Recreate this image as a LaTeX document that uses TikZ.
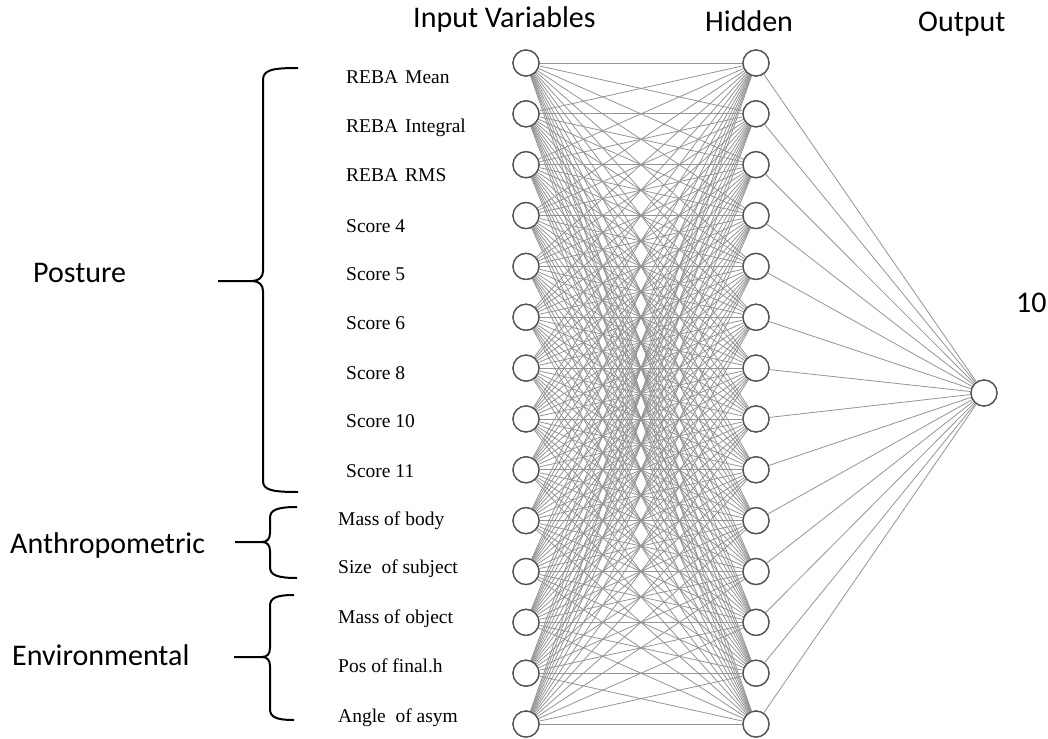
\documentclass[tikz,border=0pt]{standalone}
\usepackage{fontspec}
\setmainfont{Liberation Serif}
\newfontfamily\hdrfont{Carlito}
\begin{document}
\begin{tikzpicture}[x=1pt,y=-1pt,
  neuron/.style={circle,draw=black!68,line width=1.3pt,fill=white,minimum size=26pt,inner sep=0pt},
  conn/.style={draw=black!42,line width=0.8pt},
  bracepath/.style={draw=black,line width=2pt},
  varlabel/.style={anchor=base west,font=\fontsize{19.5}{20}\selectfont,inner sep=0pt},
  grouplabel/.style={anchor=base west,font=\hdrfont\fontsize{30}{32}\selectfont,inner sep=0pt}]
\useasboundingbox (0,0) rectangle (1048,738);
\fill[white] (0,0) rectangle (1048,738);

% neurons
\foreach \i in {1,...,14} {
  \node[neuron] (in\i) at (526,{63+(\i-1)*50.85}) {};
  \node[neuron] (hd\i) at (756,{63+(\i-1)*50.85}) {};
}
\node[neuron] (out) at (984,393) {};

% connections
\foreach \i in {1,...,14} {
  \foreach \j in {1,...,14} {
    \draw[conn] (in\i) -- (hd\j);
  }
  \draw[conn] (hd\i) -- (out);
}
% redraw neurons on top
\foreach \i in {1,...,14} {
  \node[neuron] at (in\i) {};
  \node[neuron] at (hd\i) {};
}
\node[neuron] at (out) {};

% headers
\node[grouplabel] (hin) at (413,28) {Input Variables};
\node[grouplabel] (hhid) at (705,32) {Hidden};
\node[grouplabel] (hout) at (918,32) {Output};
\node[grouplabel] (ten) at (1016,312) {10};

% variable labels
\node[varlabel] (l1) at (346,84) {REBA\hspace{7pt}Mean};
\node[varlabel] (l2) at (346,133) {REBA\hspace{7pt}Integral};
\node[varlabel] (l3) at (346,182) {REBA\hspace{7pt}RMS};
\node[varlabel] (l4) at (346,232) {Score 4};
\node[varlabel] (l5) at (346,280) {Score 5};
\node[varlabel] (l6) at (346,329) {Score 6};
\node[varlabel] (l7) at (346,379) {Score 8};
\node[varlabel] (l8) at (346,427) {Score 10};
\node[varlabel] (l9) at (346,477) {Score 11};
\node[varlabel] (l10) at (338,525) {Mass of body};
\node[varlabel] (l11) at (338,573) {Size~ of subject};
\node[varlabel] (l12) at (338,623) {Mass of object};
\node[varlabel] (l13) at (338,672) {Pos of final.h};
\node[varlabel] (l14) at (338,722) {Angle~ of asym};

% group labels
\node[grouplabel] (gpos) at (33,282) {Posture};
\node[grouplabel] (gant) at (10,553) {Anthropometric};
\node[grouplabel] (genv) at (12,665) {Environmental};

% braces
\draw[bracepath] (298,68) .. controls (272,68) and (263,70) .. (263,80) -- (263,271)
  .. controls (263,277) and (259,281) .. (252,281) -- (218,281);
\draw[bracepath] (252,281) .. controls (259,281) and (263,285) .. (263,291) -- (263,481)
  .. controls (263,490) and (272,492) .. (298,492);

\draw[bracepath] (297,507) .. controls (277,507) and (270,510) .. (270,518) -- (270,533)
  .. controls (270,539) and (267,542) .. (262,542) -- (235,542);
\draw[bracepath] (262,542) .. controls (267,542) and (270,545) .. (270,551) -- (270,567)
  .. controls (270,575) and (277,578) .. (297,578);

\draw[bracepath] (294,595) .. controls (276,595) and (270,598) .. (270,606) -- (270,648)
  .. controls (270,654) and (267,657) .. (262,657) -- (234,657);
\draw[bracepath] (262,657) .. controls (267,657) and (270,660) .. (270,666) -- (270,709)
  .. controls (270,717) and (276,720) .. (294,720);
\end{tikzpicture}
\end{document}
